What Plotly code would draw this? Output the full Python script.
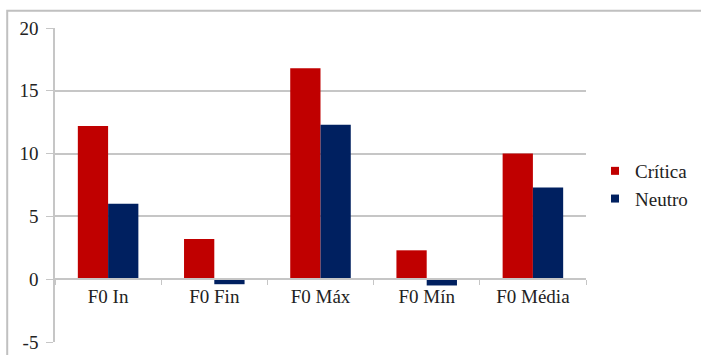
import plotly.graph_objects as go

categories = ["F0 In", "F0 Fin", "F0 Máx", "F0 Mín", "F0 Média"]
critica = [12.2, 3.2, 16.8, 2.3, 10.0]
neutro = [6.0, -0.4, 12.3, -0.5, 7.3]
y_ticks = [-5, 0, 5, 10, 15, 20]
y_tick_text = ["-5", "0", "5", "10", "15", "20"]
series_names = ["Crítica", "Neutro"]
series_colors = ["#C00000", "#002060"]

FONT = "'Liberation Serif', 'Times New Roman', serif"
GRID = "#c6c6c6"
TXT = "#222222"
FS = 19

fig = go.Figure()
for name, vals, col in zip(series_names, [critica, neutro], series_colors):
    fig.add_trace(go.Bar(x=categories, y=vals, name=name, showlegend=False,
                         marker=dict(color=col, line=dict(width=0))))
for name, col in zip(series_names, series_colors):
    fig.add_trace(go.Scatter(x=[None], y=[None], mode="markers", name=name,
                             marker=dict(symbol="square", size=8, color=col)))

fig.update_layout(
    width=701, height=355,
    margin=dict(l=55, r=115, t=28, b=13, autoexpand=False),
    paper_bgcolor="white", plot_bgcolor="white",
    font=dict(family=FONT, size=FS, color=TXT),
    barmode="group", bargap=0.43, bargroupgap=0,
    showlegend=True,
    legend=dict(x=1.017, y=0.5, xanchor="left", yanchor="middle",
                font=dict(family=FONT, size=FS, color=TXT),
                tracegroupgap=0, itemwidth=30, bgcolor="rgba(0,0,0,0)"),
    xaxis=dict(anchor="free", position=0.2, automargin=False, showline=True, linecolor=GRID, linewidth=1.5,
               ticks="outside", tickson="boundaries", ticklen=5, tickcolor=GRID,
               showgrid=False, tickfont=dict(family=FONT, size=FS, color=TXT)),
    yaxis=dict(range=[-5, 20], tickvals=y_ticks, ticktext=y_tick_text, automargin=False,
               showgrid=True, gridcolor=GRID, gridwidth=1.5,
               showline=True, linecolor=GRID, linewidth=1.5, ticks="outside", ticklen=7,
               tickcolor=GRID, zeroline=False, ticklabelstandoff=4,
               tickfont=dict(family=FONT, size=FS, color=TXT)),
    shapes=[dict(type="rect", xref="paper", yref="paper", x0=-0.09, x1=1.3, y0=-0.2, y1=1.055,
                 line=dict(color="#c0c0c0", width=2), fillcolor="rgba(0,0,0,0)", layer="below")],
)

fig.write_html("out.html")
